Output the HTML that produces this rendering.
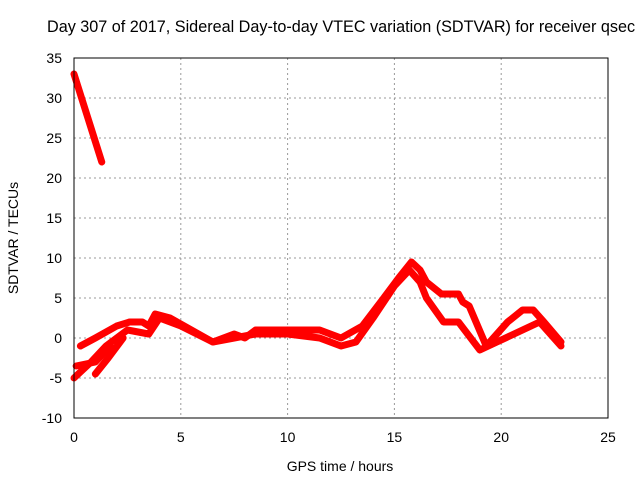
<!DOCTYPE html>
<html><head><meta charset="utf-8"><style>
body{margin:0;background:#fff}
svg text{font-family:"Liberation Sans",sans-serif;font-size:14px;fill:#000}
</style></head><body>
<svg id="chart" width="640" height="480">
<text x="47" y="32" style="font-size:16.2px">Day 307 of 2017, Sidereal Day-to-day VTEC variation (SDTVAR) for receiver qsec</text>
<text x="340" y="471" text-anchor="middle">GPS time / hours</text>
<text transform="translate(18,238) rotate(-90)" text-anchor="middle">SDTVAR / TECUs</text>
<g id="grid"></g><g id="series"></g>
<rect x="74" y="58" width="534" height="360" fill="none" stroke="#000"/>
</svg>
<script>
const xTicks=[0,5,10,15,20,25];
const yTicks=[-10,-5,0,5,10,15,20,25,30,35];
const trace1H=[0,0.65,1.3];
const trace1V=[33,27.5,22];
const trace2H=[0.3,1,2,2.6,3.2,3.5,3.8,4.5,5.5,6.5,7.5,8,8.5,10,11.5,12.5,13.5,14.5,15.2,15.8,16.2,16.5,17.2,18,18.2,18.5,19.3,20.3,21,21.5,22,22.8];
const trace2V=[-1,0,1.5,2,2,1.5,3,2.5,1,-0.5,0.5,0,1,1,1,0,1.5,5,7.5,9.5,8.5,7,5.5,5.5,4.5,4,-1,2,3.5,3.5,2,-0.5];
const trace3H=[0,0.8,1.5,2.5,3.5,4,5,6.5,7.5,8.5,10,11.5,12.5,13.2,14,15,15.7,16.2,16.5,17.3,18,19,19.8,21,21.8,22.8];
const trace3V=[-5,-3,-1,1,0.5,2.5,1.5,-0.5,0,0.5,0.5,0,-1,-0.5,2.5,6.5,8.5,7,5,2,2,-1.5,-0.5,1,2,-1];
const trace4H=[0.1,1,1.7];
const trace4V=[-3.5,-3,-1];
const trace5H=[1,1.6,2.3];
const trace5V=[-4.5,-2.5,0];
const X=h=>74+h*534/25, Y=v=>338-v*8;
const NS='http://www.w3.org/2000/svg';
const svg=document.getElementById('chart'),g=document.getElementById('grid'),s=document.getElementById('series');
function mk(t,a,p){const e=document.createElementNS(NS,t);for(const k in a)e.setAttribute(k,a[k]);p.appendChild(e);return e;}
xTicks.forEach(t=>{
 if(t>0&&t<25){const l=mk('line',{x1:X(t),x2:X(t),y1:58,y2:418,stroke:'#999','stroke-dasharray':'2,3'},g);
 
 }
 const tx=mk('text',{x:X(t),y:442,'text-anchor':'middle'},svg);tx.textContent=t;
 
 
});
yTicks.forEach(t=>{
 if(t>-10&&t<35){const l=mk('line',{x1:74,x2:608,y1:Y(t),y2:Y(t),stroke:'#999','stroke-dasharray':'2,3'},g);
 
 }
 const tx=mk('text',{x:62,y:Y(t)+5,'text-anchor':'end'},svg);tx.textContent=t;
 
 
});
[[trace1H,trace1V],[trace2H,trace2V],[trace3H,trace3V],[trace4H,trace4V],[trace5H,trace5V]].forEach(([H,V],i)=>{
 const p=mk('polyline',{points:H.map((h,j)=>X(h)+','+Y(V[j])).join(' '),fill:'none',stroke:'#f00','stroke-width':7,'stroke-linejoin':'round','stroke-linecap':'round'},s);
 
 
});
</script>
</body></html>
